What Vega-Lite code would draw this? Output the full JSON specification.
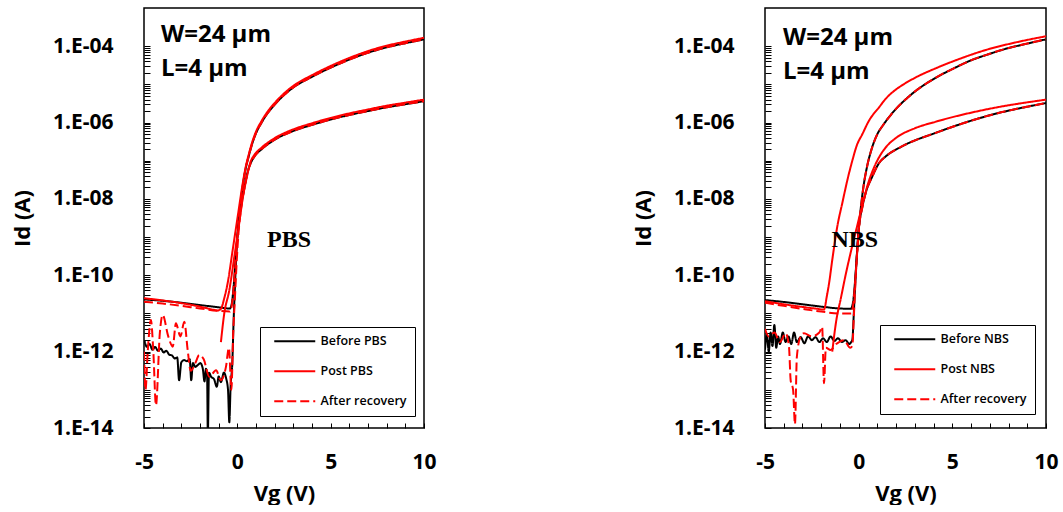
{
  "$schema": "https://vega.github.io/schema/vega-lite/v6.json",
  "background": "white",
  "padding": {"left": 10, "top": 7, "right": 0, "bottom": 0},
  "config": {
    "font": "Open Sans",
    "view": {"stroke": "black", "strokeWidth": 1.5},
    "axis": {"domain": false, "grid": false, "tickColor": "black", "tickWidth": 1, "labelColor": "black", "titleColor": "black", "labelFont": "Open Sans", "labelFontWeight": "bold", "labelFontSize": 21, "titleFont": "Open Sans", "titleFontWeight": "bold", "titleFontSize": 22, "labelOverlap": false, "labelFlush": false, "labelBound": false},
    "legend": {"labelFont": "Open Sans", "labelFontSize": 12.5, "labelFontWeight": 600, "labelColor": "black", "strokeColor": "black", "fillColor": "white", "padding": 8, "rowPadding": 17, "symbolType": "M0,0H8.2", "symbolSize": 100, "symbolStrokeWidth": 2, "labelOffset": 40}
  },
  "datasets": {
    "pbs": [
      {"series": "Before PBS", "curve": "Bh", "Vg": -5, "Id": 2.34e-11},
      {"series": "Before PBS", "curve": "Bh", "Vg": -4, "Id": 2.14e-11},
      {"series": "Before PBS", "curve": "Bh", "Vg": -3, "Id": 1.91e-11},
      {"series": "Before PBS", "curve": "Bh", "Vg": -2, "Id": 1.66e-11},
      {"series": "Before PBS", "curve": "Bh", "Vg": -1, "Id": 1.45e-11},
      {"series": "Before PBS", "curve": "Bh", "Vg": -0.4, "Id": 1.35e-11},
      {"series": "Before PBS", "curve": "Bh", "Vg": -0.3, "Id": 1.78e-11},
      {"series": "Before PBS", "curve": "Bh", "Vg": -0.2, "Id": 5.01e-11},
      {"series": "Before PBS", "curve": "Bh", "Vg": -0.1, "Id": 2.24e-10},
      {"series": "Before PBS", "curve": "Bh", "Vg": 0.0, "Id": 1.0e-9},
      {"series": "Before PBS", "curve": "Bh", "Vg": 0.1, "Id": 3.55e-9},
      {"series": "Before PBS", "curve": "Bh", "Vg": 0.2, "Id": 1.0e-8},
      {"series": "Before PBS", "curve": "Bh", "Vg": 0.3, "Id": 2.4e-8},
      {"series": "Before PBS", "curve": "Bh", "Vg": 0.45, "Id": 6.31e-8},
      {"series": "Before PBS", "curve": "Bh", "Vg": 0.6, "Id": 1.26e-7},
      {"series": "Before PBS", "curve": "Bh", "Vg": 0.8, "Id": 2.82e-7},
      {"series": "Before PBS", "curve": "Bh", "Vg": 1.0, "Id": 5.25e-7},
      {"series": "Before PBS", "curve": "Bh", "Vg": 1.3, "Id": 1.0e-6},
      {"series": "Before PBS", "curve": "Bh", "Vg": 1.6, "Id": 1.7e-6},
      {"series": "Before PBS", "curve": "Bh", "Vg": 2.0, "Id": 2.95e-6},
      {"series": "Before PBS", "curve": "Bh", "Vg": 2.5, "Id": 5.25e-6},
      {"series": "Before PBS", "curve": "Bh", "Vg": 3.0, "Id": 8.32e-6},
      {"series": "Before PBS", "curve": "Bh", "Vg": 4.0, "Id": 1.58e-5},
      {"series": "Before PBS", "curve": "Bh", "Vg": 5.0, "Id": 2.75e-5},
      {"series": "Before PBS", "curve": "Bh", "Vg": 6.0, "Id": 4.47e-5},
      {"series": "Before PBS", "curve": "Bh", "Vg": 7.0, "Id": 6.76e-5},
      {"series": "Before PBS", "curve": "Bh", "Vg": 8.0, "Id": 9.33e-5},
      {"series": "Before PBS", "curve": "Bh", "Vg": 9.0, "Id": 1.2e-4},
      {"series": "Before PBS", "curve": "Bh", "Vg": 10.0, "Id": 1.51e-4},
      {"series": "Before PBS", "curve": "Bl", "Vg": -4.98, "Id": 2.0e-12},
      {"series": "Before PBS", "curve": "Bl", "Vg": -4.85, "Id": 1.35e-12},
      {"series": "Before PBS", "curve": "Bl", "Vg": -4.7, "Id": 1.58e-12},
      {"series": "Before PBS", "curve": "Bl", "Vg": -4.55, "Id": 1.12e-12},
      {"series": "Before PBS", "curve": "Bl", "Vg": -4.4, "Id": 1.32e-12},
      {"series": "Before PBS", "curve": "Bl", "Vg": -4.25, "Id": 1.05e-12},
      {"series": "Before PBS", "curve": "Bl", "Vg": -4.1, "Id": 1.2e-12},
      {"series": "Before PBS", "curve": "Bl", "Vg": -3.95, "Id": 9.55e-13},
      {"series": "Before PBS", "curve": "Bl", "Vg": -3.8, "Id": 1.05e-12},
      {"series": "Before PBS", "curve": "Bl", "Vg": -3.65, "Id": 8.32e-13},
      {"series": "Before PBS", "curve": "Bl", "Vg": -3.5, "Id": 7.94e-13},
      {"series": "Before PBS", "curve": "Bl", "Vg": -3.35, "Id": 6.61e-13},
      {"series": "Before PBS", "curve": "Bl", "Vg": -3.22, "Id": 7.08e-13},
      {"series": "Before PBS", "curve": "Bl", "Vg": -3.12, "Id": 1.78e-13},
      {"series": "Before PBS", "curve": "Bl", "Vg": -3.0, "Id": 5.25e-13},
      {"series": "Before PBS", "curve": "Bl", "Vg": -2.85, "Id": 6.03e-13},
      {"series": "Before PBS", "curve": "Bl", "Vg": -2.7, "Id": 5.62e-13},
      {"series": "Before PBS", "curve": "Bl", "Vg": -2.55, "Id": 6.31e-13},
      {"series": "Before PBS", "curve": "Bl", "Vg": -2.47, "Id": 1.78e-13},
      {"series": "Before PBS", "curve": "Bl", "Vg": -2.38, "Id": 5.01e-13},
      {"series": "Before PBS", "curve": "Bl", "Vg": -2.25, "Id": 3.98e-13},
      {"series": "Before PBS", "curve": "Bl", "Vg": -2.12, "Id": 4.47e-13},
      {"series": "Before PBS", "curve": "Bl", "Vg": -1.98, "Id": 5.01e-13},
      {"series": "Before PBS", "curve": "Bl", "Vg": -1.85, "Id": 3.55e-13},
      {"series": "Before PBS", "curve": "Bl", "Vg": -1.76, "Id": 1.66e-13},
      {"series": "Before PBS", "curve": "Bl", "Vg": -1.68, "Id": 3.55e-13},
      {"series": "Before PBS", "curve": "Bl", "Vg": -1.62, "Id": 2.51e-13},
      {"series": "Before PBS", "curve": "Bl", "Vg": -1.58, "Id": 6.31e-15},
      {"series": "Before PBS", "curve": "Bl", "Vg": -1.52, "Id": 2.82e-13},
      {"series": "Before PBS", "curve": "Bl", "Vg": -1.4, "Id": 2.19e-13},
      {"series": "Before PBS", "curve": "Bl", "Vg": -1.25, "Id": 1.91e-13},
      {"series": "Before PBS", "curve": "Bl", "Vg": -1.1, "Id": 1.2e-13},
      {"series": "Before PBS", "curve": "Bl", "Vg": -1.0, "Id": 2.24e-13},
      {"series": "Before PBS", "curve": "Bl", "Vg": -0.88, "Id": 1.58e-13},
      {"series": "Before PBS", "curve": "Bl", "Vg": -0.72, "Id": 2.82e-13},
      {"series": "Before PBS", "curve": "Bl", "Vg": -0.6, "Id": 2.0e-13},
      {"series": "Before PBS", "curve": "Bl", "Vg": -0.5, "Id": 1.0e-13},
      {"series": "Before PBS", "curve": "Bl", "Vg": -0.43, "Id": 1.41e-14},
      {"series": "Before PBS", "curve": "Bl", "Vg": -0.36, "Id": 1.26e-13},
      {"series": "Before PBS", "curve": "Bl", "Vg": -0.27, "Id": 5.01e-13},
      {"series": "Before PBS", "curve": "Bl", "Vg": -0.2, "Id": 6.31e-12},
      {"series": "Before PBS", "curve": "Bl", "Vg": -0.12, "Id": 6.31e-11},
      {"series": "Before PBS", "curve": "Bl", "Vg": -0.05, "Id": 4.47e-10},
      {"series": "Before PBS", "curve": "Bl", "Vg": 0.05, "Id": 1.78e-9},
      {"series": "Before PBS", "curve": "Bl", "Vg": 0.2, "Id": 6.31e-9},
      {"series": "Before PBS", "curve": "Bl", "Vg": 0.38, "Id": 2.0e-8},
      {"series": "Before PBS", "curve": "Bl", "Vg": 0.55, "Id": 5.01e-8},
      {"series": "Before PBS", "curve": "Bl", "Vg": 0.7, "Id": 8.32e-8},
      {"series": "Before PBS", "curve": "Bl", "Vg": 0.9, "Id": 1.26e-7},
      {"series": "Before PBS", "curve": "Bl", "Vg": 1.3, "Id": 2.0e-7},
      {"series": "Before PBS", "curve": "Bl", "Vg": 2.0, "Id": 3.55e-7},
      {"series": "Before PBS", "curve": "Bl", "Vg": 3.0, "Id": 6.03e-7},
      {"series": "Before PBS", "curve": "Bl", "Vg": 4.0, "Id": 8.71e-7},
      {"series": "Before PBS", "curve": "Bl", "Vg": 5.0, "Id": 1.2e-6},
      {"series": "Before PBS", "curve": "Bl", "Vg": 6.0, "Id": 1.58e-6},
      {"series": "Before PBS", "curve": "Bl", "Vg": 7.0, "Id": 2.0e-6},
      {"series": "Before PBS", "curve": "Bl", "Vg": 8.0, "Id": 2.51e-6},
      {"series": "Before PBS", "curve": "Bl", "Vg": 9.0, "Id": 3.02e-6},
      {"series": "Before PBS", "curve": "Bl", "Vg": 10.0, "Id": 3.63e-6},

      {"series": "Post PBS", "curve": "Ph", "Vg": -5, "Id": 2.51e-11},
      {"series": "Post PBS", "curve": "Ph", "Vg": -4, "Id": 2.19e-11},
      {"series": "Post PBS", "curve": "Ph", "Vg": -3, "Id": 1.86e-11},
      {"series": "Post PBS", "curve": "Ph", "Vg": -2, "Id": 1.51e-11},
      {"series": "Post PBS", "curve": "Ph", "Vg": -1.3, "Id": 1.26e-11},
      {"series": "Post PBS", "curve": "Ph", "Vg": -1.05, "Id": 1.2e-11},
      {"series": "Post PBS", "curve": "Ph", "Vg": -0.88, "Id": 1.32e-11},
      {"series": "Post PBS", "curve": "Ph", "Vg": -0.7, "Id": 2.51e-11},
      {"series": "Post PBS", "curve": "Ph", "Vg": -0.52, "Id": 6.17e-11},
      {"series": "Post PBS", "curve": "Ph", "Vg": -0.25, "Id": 4.57e-10},
      {"series": "Post PBS", "curve": "Ph", "Vg": 0.02, "Id": 3.47e-9},
      {"series": "Post PBS", "curve": "Ph", "Vg": 0.29, "Id": 2.57e-8},
      {"series": "Post PBS", "curve": "Ph", "Vg": 0.45, "Id": 6.94e-8},
      {"series": "Post PBS", "curve": "Ph", "Vg": 0.6, "Id": 1.39e-7},
      {"series": "Post PBS", "curve": "Ph", "Vg": 0.8, "Id": 3.1e-7},
      {"series": "Post PBS", "curve": "Ph", "Vg": 1.0, "Id": 5.78e-7},
      {"series": "Post PBS", "curve": "Ph", "Vg": 1.3, "Id": 1.1e-6},
      {"series": "Post PBS", "curve": "Ph", "Vg": 1.6, "Id": 1.87e-6},
      {"series": "Post PBS", "curve": "Ph", "Vg": 2.0, "Id": 3.25e-6},
      {"series": "Post PBS", "curve": "Ph", "Vg": 2.5, "Id": 5.78e-6},
      {"series": "Post PBS", "curve": "Ph", "Vg": 3.0, "Id": 9.15e-6},
      {"series": "Post PBS", "curve": "Ph", "Vg": 4.0, "Id": 1.74e-5},
      {"series": "Post PBS", "curve": "Ph", "Vg": 5.0, "Id": 3.03e-5},
      {"series": "Post PBS", "curve": "Ph", "Vg": 6.0, "Id": 4.92e-5},
      {"series": "Post PBS", "curve": "Ph", "Vg": 7.0, "Id": 7.44e-5},
      {"series": "Post PBS", "curve": "Ph", "Vg": 8.0, "Id": 1.03e-4},
      {"series": "Post PBS", "curve": "Ph", "Vg": 9.0, "Id": 1.32e-4},
      {"series": "Post PBS", "curve": "Ph", "Vg": 10.0, "Id": 1.66e-4},
      {"series": "Post PBS", "curve": "Pl", "Vg": -0.88, "Id": 1.78e-12},
      {"series": "Post PBS", "curve": "Pl", "Vg": -0.7, "Id": 1.0e-11},
      {"series": "Post PBS", "curve": "Pl", "Vg": -0.43, "Id": 4.07e-11},
      {"series": "Post PBS", "curve": "Pl", "Vg": -0.16, "Id": 3.09e-10},
      {"series": "Post PBS", "curve": "Pl", "Vg": 0.1, "Id": 2.29e-9},
      {"series": "Post PBS", "curve": "Pl", "Vg": 0.3, "Id": 1.12e-8},
      {"series": "Post PBS", "curve": "Pl", "Vg": 0.5, "Id": 3.55e-8},
      {"series": "Post PBS", "curve": "Pl", "Vg": 0.7, "Id": 9.15e-8},
      {"series": "Post PBS", "curve": "Pl", "Vg": 0.9, "Id": 1.39e-7},
      {"series": "Post PBS", "curve": "Pl", "Vg": 1.3, "Id": 2.2e-7},
      {"series": "Post PBS", "curve": "Pl", "Vg": 2.0, "Id": 3.9e-7},
      {"series": "Post PBS", "curve": "Pl", "Vg": 3.0, "Id": 6.63e-7},
      {"series": "Post PBS", "curve": "Pl", "Vg": 4.0, "Id": 9.58e-7},
      {"series": "Post PBS", "curve": "Pl", "Vg": 5.0, "Id": 1.32e-6},
      {"series": "Post PBS", "curve": "Pl", "Vg": 6.0, "Id": 1.74e-6},
      {"series": "Post PBS", "curve": "Pl", "Vg": 7.0, "Id": 2.2e-6},
      {"series": "Post PBS", "curve": "Pl", "Vg": 8.0, "Id": 2.76e-6},
      {"series": "Post PBS", "curve": "Pl", "Vg": 9.0, "Id": 3.32e-6},
      {"series": "Post PBS", "curve": "Pl", "Vg": 10.0, "Id": 3.99e-6},

      {"series": "After recovery", "curve": "Ah", "Vg": -5, "Id": 2.04e-11},
      {"series": "After recovery", "curve": "Ah", "Vg": -4, "Id": 1.82e-11},
      {"series": "After recovery", "curve": "Ah", "Vg": -3, "Id": 1.58e-11},
      {"series": "After recovery", "curve": "Ah", "Vg": -2, "Id": 1.35e-11},
      {"series": "After recovery", "curve": "Ah", "Vg": -1, "Id": 1.17e-11},
      {"series": "After recovery", "curve": "Ah", "Vg": -0.4, "Id": 1.12e-11},
      {"series": "After recovery", "curve": "Ah", "Vg": -0.3, "Id": 1.58e-11},
      {"series": "After recovery", "curve": "Ah", "Vg": -0.2, "Id": 4.47e-11},
      {"series": "After recovery", "curve": "Ah", "Vg": -0.1, "Id": 2.0e-10},
      {"series": "After recovery", "curve": "Ah", "Vg": 0.0, "Id": 8.91e-10},
      {"series": "After recovery", "curve": "Ah", "Vg": 0.1, "Id": 3.16e-9},
      {"series": "After recovery", "curve": "Ah", "Vg": 0.2, "Id": 8.91e-9},
      {"series": "After recovery", "curve": "Ah", "Vg": 0.3, "Id": 2.24e-8},
      {"series": "After recovery", "curve": "Ah", "Vg": 0.45, "Id": 6.31e-8},
      {"series": "After recovery", "curve": "Ah", "Vg": 0.6, "Id": 1.26e-7},
      {"series": "After recovery", "curve": "Ah", "Vg": 0.8, "Id": 2.82e-7},
      {"series": "After recovery", "curve": "Ah", "Vg": 1.0, "Id": 5.25e-7},
      {"series": "After recovery", "curve": "Ah", "Vg": 1.3, "Id": 1.0e-6},
      {"series": "After recovery", "curve": "Ah", "Vg": 1.6, "Id": 1.7e-6},
      {"series": "After recovery", "curve": "Ah", "Vg": 2.0, "Id": 2.95e-6},
      {"series": "After recovery", "curve": "Ah", "Vg": 2.5, "Id": 5.25e-6},
      {"series": "After recovery", "curve": "Ah", "Vg": 3.0, "Id": 8.32e-6},
      {"series": "After recovery", "curve": "Ah", "Vg": 4.0, "Id": 1.58e-5},
      {"series": "After recovery", "curve": "Ah", "Vg": 5.0, "Id": 2.75e-5},
      {"series": "After recovery", "curve": "Ah", "Vg": 6.0, "Id": 4.47e-5},
      {"series": "After recovery", "curve": "Ah", "Vg": 7.0, "Id": 6.76e-5},
      {"series": "After recovery", "curve": "Ah", "Vg": 8.0, "Id": 9.33e-5},
      {"series": "After recovery", "curve": "Ah", "Vg": 9.0, "Id": 1.2e-4},
      {"series": "After recovery", "curve": "Ah", "Vg": 10.0, "Id": 1.51e-4},
      {"series": "After recovery", "curve": "Al", "Vg": -5, "Id": 1.0e-12},
      {"series": "After recovery", "curve": "Al", "Vg": -4.92, "Id": 1.0e-13},
      {"series": "After recovery", "curve": "Al", "Vg": -4.8, "Id": 1.0e-12},
      {"series": "After recovery", "curve": "Al", "Vg": -4.63, "Id": 6.76e-12},
      {"series": "After recovery", "curve": "Al", "Vg": -4.5, "Id": 1.0e-12},
      {"series": "After recovery", "curve": "Al", "Vg": -4.36, "Id": 3.98e-14},
      {"series": "After recovery", "curve": "Al", "Vg": -4.15, "Id": 3.16e-12},
      {"series": "After recovery", "curve": "Al", "Vg": -4.0, "Id": 9.12e-12},
      {"series": "After recovery", "curve": "Al", "Vg": -3.7, "Id": 2.51e-12},
      {"series": "After recovery", "curve": "Al", "Vg": -3.46, "Id": 1.35e-12},
      {"series": "After recovery", "curve": "Al", "Vg": -3.29, "Id": 5.5e-12},
      {"series": "After recovery", "curve": "Al", "Vg": -3.05, "Id": 2.51e-12},
      {"series": "After recovery", "curve": "Al", "Vg": -2.84, "Id": 6.03e-12},
      {"series": "After recovery", "curve": "Al", "Vg": -2.66, "Id": 1.1e-12},
      {"series": "After recovery", "curve": "Al", "Vg": -2.5, "Id": 3.16e-13},
      {"series": "After recovery", "curve": "Al", "Vg": -2.25, "Id": 5.0e-13},
      {"series": "After recovery", "curve": "Al", "Vg": -2.04, "Id": 8.13e-13},
      {"series": "After recovery", "curve": "Al", "Vg": -1.8, "Id": 6.31e-13},
      {"series": "After recovery", "curve": "Al", "Vg": -1.5, "Id": 2.19e-13},
      {"series": "After recovery", "curve": "Al", "Vg": -1.14, "Id": 3.24e-13},
      {"series": "After recovery", "curve": "Al", "Vg": -0.88, "Id": 1.78e-13},
      {"series": "After recovery", "curve": "Al", "Vg": -0.61, "Id": 3.98e-13},
      {"series": "After recovery", "curve": "Al", "Vg": -0.45, "Id": 1.26e-12},
      {"series": "After recovery", "curve": "Al", "Vg": -0.32, "Id": 1.0e-13},
      {"series": "After recovery", "curve": "Al", "Vg": -0.22, "Id": 3.16e-12},
      {"series": "After recovery", "curve": "Al", "Vg": -0.12, "Id": 3.16e-11},
      {"series": "After recovery", "curve": "Al", "Vg": -0.03, "Id": 2.51e-10},
      {"series": "After recovery", "curve": "Al", "Vg": 0.07, "Id": 1.41e-9},
      {"series": "After recovery", "curve": "Al", "Vg": 0.2, "Id": 5.62e-9},
      {"series": "After recovery", "curve": "Al", "Vg": 0.38, "Id": 1.91e-8},
      {"series": "After recovery", "curve": "Al", "Vg": 0.55, "Id": 5.01e-8},
      {"series": "After recovery", "curve": "Al", "Vg": 0.7, "Id": 8.32e-8},
      {"series": "After recovery", "curve": "Al", "Vg": 0.9, "Id": 1.26e-7},
      {"series": "After recovery", "curve": "Al", "Vg": 1.3, "Id": 2.0e-7},
      {"series": "After recovery", "curve": "Al", "Vg": 2.0, "Id": 3.55e-7},
      {"series": "After recovery", "curve": "Al", "Vg": 3.0, "Id": 6.03e-7},
      {"series": "After recovery", "curve": "Al", "Vg": 4.0, "Id": 8.71e-7},
      {"series": "After recovery", "curve": "Al", "Vg": 5.0, "Id": 1.2e-6},
      {"series": "After recovery", "curve": "Al", "Vg": 6.0, "Id": 1.58e-6},
      {"series": "After recovery", "curve": "Al", "Vg": 7.0, "Id": 2.0e-6},
      {"series": "After recovery", "curve": "Al", "Vg": 8.0, "Id": 2.51e-6},
      {"series": "After recovery", "curve": "Al", "Vg": 9.0, "Id": 3.02e-6},
      {"series": "After recovery", "curve": "Al", "Vg": 10.0, "Id": 3.63e-6}
    ],
    "nbs": [
      {"series": "Before NBS", "curve": "Bh", "Vg": -5, "Id": 2.24e-11},
      {"series": "Before NBS", "curve": "Bh", "Vg": -4, "Id": 2.0e-11},
      {"series": "Before NBS", "curve": "Bh", "Vg": -3, "Id": 1.74e-11},
      {"series": "Before NBS", "curve": "Bh", "Vg": -2, "Id": 1.51e-11},
      {"series": "Before NBS", "curve": "Bh", "Vg": -1, "Id": 1.35e-11},
      {"series": "Before NBS", "curve": "Bh", "Vg": -0.42, "Id": 1.32e-11},
      {"series": "Before NBS", "curve": "Bh", "Vg": -0.3, "Id": 2.0e-11},
      {"series": "Before NBS", "curve": "Bh", "Vg": -0.2, "Id": 6.31e-11},
      {"series": "Before NBS", "curve": "Bh", "Vg": -0.1, "Id": 3.16e-10},
      {"series": "Before NBS", "curve": "Bh", "Vg": 0.0, "Id": 1.58e-9},
      {"series": "Before NBS", "curve": "Bh", "Vg": 0.1, "Id": 5.01e-9},
      {"series": "Before NBS", "curve": "Bh", "Vg": 0.25, "Id": 2.0e-8},
      {"series": "Before NBS", "curve": "Bh", "Vg": 0.45, "Id": 7.08e-8},
      {"series": "Before NBS", "curve": "Bh", "Vg": 0.7, "Id": 2.09e-7},
      {"series": "Before NBS", "curve": "Bh", "Vg": 1.0, "Id": 5.01e-7},
      {"series": "Before NBS", "curve": "Bh", "Vg": 1.3, "Id": 8.51e-7},
      {"series": "Before NBS", "curve": "Bh", "Vg": 1.8, "Id": 1.78e-6},
      {"series": "Before NBS", "curve": "Bh", "Vg": 2.7, "Id": 4.9e-6},
      {"series": "Before NBS", "curve": "Bh", "Vg": 4.1, "Id": 1.48e-5},
      {"series": "Before NBS", "curve": "Bh", "Vg": 5.0, "Id": 2.51e-5},
      {"series": "Before NBS", "curve": "Bh", "Vg": 5.9, "Id": 4.07e-5},
      {"series": "Before NBS", "curve": "Bh", "Vg": 7.0, "Id": 6.31e-5},
      {"series": "Before NBS", "curve": "Bh", "Vg": 7.7, "Id": 8.13e-5},
      {"series": "Before NBS", "curve": "Bh", "Vg": 9.0, "Id": 1.17e-4},
      {"series": "Before NBS", "curve": "Bh", "Vg": 10.0, "Id": 1.51e-4},
      {"series": "Before NBS", "curve": "Bl", "Vg": -5.0, "Id": 1.12e-12},
      {"series": "Before NBS", "curve": "Bl", "Vg": -4.9, "Id": 2.82e-12},
      {"series": "Before NBS", "curve": "Bl", "Vg": -4.8, "Id": 1.0e-12},
      {"series": "Before NBS", "curve": "Bl", "Vg": -4.7, "Id": 3.16e-12},
      {"series": "Before NBS", "curve": "Bl", "Vg": -4.6, "Id": 1.41e-12},
      {"series": "Before NBS", "curve": "Bl", "Vg": -4.5, "Id": 5.01e-12},
      {"series": "Before NBS", "curve": "Bl", "Vg": -4.4, "Id": 1.26e-12},
      {"series": "Before NBS", "curve": "Bl", "Vg": -4.3, "Id": 2.51e-12},
      {"series": "Before NBS", "curve": "Bl", "Vg": -4.2, "Id": 1.58e-12},
      {"series": "Before NBS", "curve": "Bl", "Vg": -4.05, "Id": 3.16e-12},
      {"series": "Before NBS", "curve": "Bl", "Vg": -3.9, "Id": 1.78e-12},
      {"series": "Before NBS", "curve": "Bl", "Vg": -3.75, "Id": 2.51e-12},
      {"series": "Before NBS", "curve": "Bl", "Vg": -3.6, "Id": 1.58e-12},
      {"series": "Before NBS", "curve": "Bl", "Vg": -3.45, "Id": 3.16e-12},
      {"series": "Before NBS", "curve": "Bl", "Vg": -3.3, "Id": 1.78e-12},
      {"series": "Before NBS", "curve": "Bl", "Vg": -3.1, "Id": 2.4e-12},
      {"series": "Before NBS", "curve": "Bl", "Vg": -2.9, "Id": 1.66e-12},
      {"series": "Before NBS", "curve": "Bl", "Vg": -2.7, "Id": 2.51e-12},
      {"series": "Before NBS", "curve": "Bl", "Vg": -2.5, "Id": 2.0e-12},
      {"series": "Before NBS", "curve": "Bl", "Vg": -2.3, "Id": 2.4e-12},
      {"series": "Before NBS", "curve": "Bl", "Vg": -2.1, "Id": 1.78e-12},
      {"series": "Before NBS", "curve": "Bl", "Vg": -1.9, "Id": 2.24e-12},
      {"series": "Before NBS", "curve": "Bl", "Vg": -1.7, "Id": 1.78e-12},
      {"series": "Before NBS", "curve": "Bl", "Vg": -1.5, "Id": 2.51e-12},
      {"series": "Before NBS", "curve": "Bl", "Vg": -1.3, "Id": 1.91e-12},
      {"series": "Before NBS", "curve": "Bl", "Vg": -1.1, "Id": 2.24e-12},
      {"series": "Before NBS", "curve": "Bl", "Vg": -0.9, "Id": 1.78e-12},
      {"series": "Before NBS", "curve": "Bl", "Vg": -0.7, "Id": 2.0e-12},
      {"series": "Before NBS", "curve": "Bl", "Vg": -0.5, "Id": 1.58e-12},
      {"series": "Before NBS", "curve": "Bl", "Vg": -0.4, "Id": 1.78e-12},
      {"series": "Before NBS", "curve": "Bl", "Vg": -0.34, "Id": 2.0e-12},
      {"series": "Before NBS", "curve": "Bl", "Vg": -0.25, "Id": 1.26e-11},
      {"series": "Before NBS", "curve": "Bl", "Vg": -0.16, "Id": 1.0e-10},
      {"series": "Before NBS", "curve": "Bl", "Vg": -0.08, "Id": 4.47e-10},
      {"series": "Before NBS", "curve": "Bl", "Vg": 0.02, "Id": 1.91e-9},
      {"series": "Before NBS", "curve": "Bl", "Vg": 0.2, "Id": 6.31e-9},
      {"series": "Before NBS", "curve": "Bl", "Vg": 0.37, "Id": 1.41e-8},
      {"series": "Before NBS", "curve": "Bl", "Vg": 0.73, "Id": 3.89e-8},
      {"series": "Before NBS", "curve": "Bl", "Vg": 1.09, "Id": 8.71e-8},
      {"series": "Before NBS", "curve": "Bl", "Vg": 1.44, "Id": 1.29e-7},
      {"series": "Before NBS", "curve": "Bl", "Vg": 2.33, "Id": 2.4e-7},
      {"series": "Before NBS", "curve": "Bl", "Vg": 4.11, "Id": 5.37e-7},
      {"series": "Before NBS", "curve": "Bl", "Vg": 6.78, "Id": 1.45e-6},
      {"series": "Before NBS", "curve": "Bl", "Vg": 10.0, "Id": 3.24e-6},

      {"series": "Post NBS", "curve": "Ph", "Vg": -5, "Id": 2.09e-11},
      {"series": "Post NBS", "curve": "Ph", "Vg": -4, "Id": 1.74e-11},
      {"series": "Post NBS", "curve": "Ph", "Vg": -3, "Id": 1.48e-11},
      {"series": "Post NBS", "curve": "Ph", "Vg": -2.2, "Id": 1.32e-11},
      {"series": "Post NBS", "curve": "Ph", "Vg": -1.85, "Id": 1.26e-11},
      {"series": "Post NBS", "curve": "Ph", "Vg": -1.7, "Id": 2.82e-11},
      {"series": "Post NBS", "curve": "Ph", "Vg": -1.58, "Id": 6.17e-11},
      {"series": "Post NBS", "curve": "Ph", "Vg": -1.41, "Id": 2.51e-10},
      {"series": "Post NBS", "curve": "Ph", "Vg": -1.14, "Id": 1.91e-9},
      {"series": "Post NBS", "curve": "Ph", "Vg": -0.87, "Id": 7.94e-9},
      {"series": "Post NBS", "curve": "Ph", "Vg": -0.6, "Id": 3.16e-8},
      {"series": "Post NBS", "curve": "Ph", "Vg": -0.34, "Id": 1.0e-7},
      {"series": "Post NBS", "curve": "Ph", "Vg": -0.1, "Id": 2.51e-7},
      {"series": "Post NBS", "curve": "Ph", "Vg": 0.2, "Id": 5.01e-7},
      {"series": "Post NBS", "curve": "Ph", "Vg": 0.55, "Id": 1.12e-6},
      {"series": "Post NBS", "curve": "Ph", "Vg": 1.09, "Id": 2.51e-6},
      {"series": "Post NBS", "curve": "Ph", "Vg": 1.44, "Id": 4.17e-6},
      {"series": "Post NBS", "curve": "Ph", "Vg": 2.0, "Id": 7.41e-6},
      {"series": "Post NBS", "curve": "Ph", "Vg": 2.33, "Id": 9.55e-6},
      {"series": "Post NBS", "curve": "Ph", "Vg": 3.2, "Id": 1.66e-5},
      {"series": "Post NBS", "curve": "Ph", "Vg": 4.11, "Id": 2.63e-5},
      {"series": "Post NBS", "curve": "Ph", "Vg": 5.4, "Id": 4.68e-5},
      {"series": "Post NBS", "curve": "Ph", "Vg": 6.78, "Id": 7.94e-5},
      {"series": "Post NBS", "curve": "Ph", "Vg": 8.4, "Id": 1.26e-4},
      {"series": "Post NBS", "curve": "Ph", "Vg": 10.0, "Id": 1.82e-4},
      {"series": "Post NBS", "curve": "Pl", "Vg": -1.41, "Id": 1.0e-12},
      {"series": "Post NBS", "curve": "Pl", "Vg": -1.2, "Id": 6.31e-12},
      {"series": "Post NBS", "curve": "Pl", "Vg": -0.95, "Id": 2.51e-11},
      {"series": "Post NBS", "curve": "Pl", "Vg": -0.7, "Id": 1.0e-10},
      {"series": "Post NBS", "curve": "Pl", "Vg": -0.4, "Id": 4.47e-10},
      {"series": "Post NBS", "curve": "Pl", "Vg": -0.1, "Id": 1.78e-9},
      {"series": "Post NBS", "curve": "Pl", "Vg": 0.2, "Id": 7.08e-9},
      {"series": "Post NBS", "curve": "Pl", "Vg": 0.5, "Id": 2.51e-8},
      {"series": "Post NBS", "curve": "Pl", "Vg": 0.8, "Id": 6.31e-8},
      {"series": "Post NBS", "curve": "Pl", "Vg": 1.1, "Id": 1.26e-7},
      {"series": "Post NBS", "curve": "Pl", "Vg": 1.5, "Id": 2.4e-7},
      {"series": "Post NBS", "curve": "Pl", "Vg": 2.0, "Id": 3.98e-7},
      {"series": "Post NBS", "curve": "Pl", "Vg": 3.0, "Id": 7.08e-7},
      {"series": "Post NBS", "curve": "Pl", "Vg": 4.11, "Id": 1.05e-6},
      {"series": "Post NBS", "curve": "Pl", "Vg": 6.78, "Id": 2.19e-6},
      {"series": "Post NBS", "curve": "Pl", "Vg": 10.0, "Id": 3.98e-6},

      {"series": "After recovery", "curve": "Ah", "Vg": -5, "Id": 1.91e-11},
      {"series": "After recovery", "curve": "Ah", "Vg": -4, "Id": 1.58e-11},
      {"series": "After recovery", "curve": "Ah", "Vg": -3, "Id": 1.32e-11},
      {"series": "After recovery", "curve": "Ah", "Vg": -2, "Id": 1.12e-11},
      {"series": "After recovery", "curve": "Ah", "Vg": -1, "Id": 1.0e-11},
      {"series": "After recovery", "curve": "Ah", "Vg": -0.4, "Id": 1.0e-11},
      {"series": "After recovery", "curve": "Ah", "Vg": -0.3, "Id": 1.58e-11},
      {"series": "After recovery", "curve": "Ah", "Vg": -0.2, "Id": 5.62e-11},
      {"series": "After recovery", "curve": "Ah", "Vg": -0.1, "Id": 2.82e-10},
      {"series": "After recovery", "curve": "Ah", "Vg": 0.0, "Id": 1.41e-9},
      {"series": "After recovery", "curve": "Ah", "Vg": 0.1, "Id": 4.47e-9},
      {"series": "After recovery", "curve": "Ah", "Vg": 0.25, "Id": 2.0e-8},
      {"series": "After recovery", "curve": "Ah", "Vg": 0.45, "Id": 7.08e-8},
      {"series": "After recovery", "curve": "Ah", "Vg": 0.7, "Id": 2.09e-7},
      {"series": "After recovery", "curve": "Ah", "Vg": 1.0, "Id": 5.01e-7},
      {"series": "After recovery", "curve": "Ah", "Vg": 1.3, "Id": 8.51e-7},
      {"series": "After recovery", "curve": "Ah", "Vg": 1.8, "Id": 1.78e-6},
      {"series": "After recovery", "curve": "Ah", "Vg": 2.7, "Id": 4.9e-6},
      {"series": "After recovery", "curve": "Ah", "Vg": 4.1, "Id": 1.48e-5},
      {"series": "After recovery", "curve": "Ah", "Vg": 5.0, "Id": 2.51e-5},
      {"series": "After recovery", "curve": "Ah", "Vg": 5.9, "Id": 4.07e-5},
      {"series": "After recovery", "curve": "Ah", "Vg": 7.0, "Id": 6.31e-5},
      {"series": "After recovery", "curve": "Ah", "Vg": 7.7, "Id": 8.13e-5},
      {"series": "After recovery", "curve": "Ah", "Vg": 9.0, "Id": 1.17e-4},
      {"series": "After recovery", "curve": "Ah", "Vg": 10.0, "Id": 1.51e-4},
      {"series": "After recovery", "curve": "Al", "Vg": -5, "Id": 3.98e-12},
      {"series": "After recovery", "curve": "Al", "Vg": -4.8, "Id": 2.51e-12},
      {"series": "After recovery", "curve": "Al", "Vg": -4.5, "Id": 3.16e-12},
      {"series": "After recovery", "curve": "Al", "Vg": -4.2, "Id": 1.78e-12},
      {"series": "After recovery", "curve": "Al", "Vg": -3.9, "Id": 3.02e-12},
      {"series": "After recovery", "curve": "Al", "Vg": -3.72, "Id": 1.35e-12},
      {"series": "After recovery", "curve": "Al", "Vg": -3.63, "Id": 1.78e-13},
      {"series": "After recovery", "curve": "Al", "Vg": -3.5, "Id": 1.0e-13},
      {"series": "After recovery", "curve": "Al", "Vg": -3.4, "Id": 1.26e-14},
      {"series": "After recovery", "curve": "Al", "Vg": -3.3, "Id": 7.24e-13},
      {"series": "After recovery", "curve": "Al", "Vg": -3.1, "Id": 2.51e-12},
      {"series": "After recovery", "curve": "Al", "Vg": -2.92, "Id": 3.02e-12},
      {"series": "After recovery", "curve": "Al", "Vg": -2.5, "Id": 2.51e-12},
      {"series": "After recovery", "curve": "Al", "Vg": -2.1, "Id": 3.16e-12},
      {"series": "After recovery", "curve": "Al", "Vg": -1.95, "Id": 4.47e-12},
      {"series": "After recovery", "curve": "Al", "Vg": -1.85, "Id": 1.48e-13},
      {"series": "After recovery", "curve": "Al", "Vg": -1.75, "Id": 1.26e-12},
      {"series": "After recovery", "curve": "Al", "Vg": -1.5, "Id": 1.1e-12},
      {"series": "After recovery", "curve": "Al", "Vg": -1.2, "Id": 1.58e-12},
      {"series": "After recovery", "curve": "Al", "Vg": -0.78, "Id": 2.0e-12},
      {"series": "After recovery", "curve": "Al", "Vg": -0.45, "Id": 1.26e-12},
      {"series": "After recovery", "curve": "Al", "Vg": -0.34, "Id": 1.41e-12},
      {"series": "After recovery", "curve": "Al", "Vg": -0.25, "Id": 1.0e-11},
      {"series": "After recovery", "curve": "Al", "Vg": -0.16, "Id": 8.91e-11},
      {"series": "After recovery", "curve": "Al", "Vg": -0.08, "Id": 3.98e-10},
      {"series": "After recovery", "curve": "Al", "Vg": 0.02, "Id": 1.78e-9},
      {"series": "After recovery", "curve": "Al", "Vg": 0.2, "Id": 6.03e-9},
      {"series": "After recovery", "curve": "Al", "Vg": 0.37, "Id": 1.41e-8},
      {"series": "After recovery", "curve": "Al", "Vg": 0.73, "Id": 3.89e-8},
      {"series": "After recovery", "curve": "Al", "Vg": 1.09, "Id": 8.71e-8},
      {"series": "After recovery", "curve": "Al", "Vg": 1.44, "Id": 1.29e-7},
      {"series": "After recovery", "curve": "Al", "Vg": 2.33, "Id": 2.4e-7},
      {"series": "After recovery", "curve": "Al", "Vg": 4.11, "Id": 5.37e-7},
      {"series": "After recovery", "curve": "Al", "Vg": 6.78, "Id": 1.45e-6},
      {"series": "After recovery", "curve": "Al", "Vg": 10.0, "Id": 3.24e-6}
    ]
  },
  "spacing": 194,
  "resolve": {"scale": {"color": "independent", "strokeDash": "independent"}, "legend": {"color": "independent", "strokeDash": "independent"}},
  "hconcat": [
    {
      "width": 280, "height": 420,
      "encoding": {
        "x": {"field": "Vg", "type": "quantitative", "title": "Vg (V)", "scale": {"domain": [-5, 10], "nice": false, "zero": false},
              "axis": {"values": [-5,-4,-3,-2,-1,0,1,2,3,4,5,6,7,8,9,10], "labelExpr": "datum.value == -5 ? '-5' : datum.value == 0 ? '0' : datum.value == 5 ? '5' : datum.value == 10 ? '10' : ''", "labelOverlap": false, "labelFlush": false, "labelBound": false, "tickSize": -5, "labelPadding": 28, "titlePadding": 11}},
        "y": {"field": "Id", "type": "quantitative", "title": "Id (A)", "scale": {"type": "log", "domain": [1e-14, 1e-3], "nice": false},
              "axis": {"values": [1e-14,2e-14,3e-14,4e-14,5e-14,6e-14,7e-14,8e-14,9e-14,1e-13,2e-13,3e-13,4e-13,5e-13,6e-13,7e-13,8e-13,9e-13,1e-12,2e-12,3e-12,4e-12,5e-12,6e-12,7e-12,8e-12,9e-12,1e-11,2e-11,3e-11,4e-11,5e-11,6e-11,7e-11,8e-11,9e-11,1e-10,2e-10,3e-10,4e-10,5e-10,6e-10,7e-10,8e-10,9e-10,1e-9,2e-9,3e-9,4e-9,5e-9,6e-9,7e-9,8e-9,9e-9,1e-8,2e-8,3e-8,4e-8,5e-8,6e-8,7e-8,8e-8,9e-8,1e-7,2e-7,3e-7,4e-7,5e-7,6e-7,7e-7,8e-7,9e-7,1e-6,2e-6,3e-6,4e-6,5e-6,6e-6,7e-6,8e-6,9e-6,1e-5,2e-5,3e-5,4e-5,5e-5,6e-5,7e-5,8e-5,9e-5,1e-4],
                       "labelExpr": "(abs(log(datum.value)/LN10 - round(log(datum.value)/LN10)) < 0.001 && round(log(datum.value)/LN10) % 2 === 0) ? '1.E-' + (round(-log(datum.value)/LN10) < 10 ? '0' : '') + round(-log(datum.value)/LN10) : ''",
                       "labelOverlap": false, "tickSize": -6, "labelPadding": 37, "titlePadding": 18}}
      },
      "layer": [
        {
          "data": {"name": "pbs"},
          "mark": {"type": "line", "strokeWidth": 2, "interpolate": "monotone", "clip": true},
          "encoding": {
            "color": {"field": "series", "type": "nominal", "scale": {"domain": ["Before PBS", "Post PBS", "After recovery"], "range": ["#000000", "#ff0000", "#ff0000"]},
                      "legend": {"title": null, "orient": "none", "legendX": 116, "legendY": 319}},
            "strokeDash": {"field": "series", "type": "nominal", "scale": {"domain": ["Before PBS", "Post PBS", "After recovery"], "range": [[1, 0], [1, 0], [9, 4]]},
                      "legend": {"title": null, "orient": "none", "legendX": 116, "legendY": 319}},
            "detail": {"field": "curve"}
          }
        },
        {
          "data": {"values": [{"Vg": -4.09, "Id": 1.32e-4, "t": "W=24 µm"}, {"Vg": -4.09, "Id": 1.62e-5, "t": "L=4 µm"}]},
          "mark": {"type": "text", "align": "left", "baseline": "alphabetic", "fontSize": 24, "fontWeight": "bold", "font": "Open Sans", "color": "black"},
          "encoding": {"text": {"field": "t"}}
        },
        {
          "data": {"values": [{"Vg": 2.77, "Id": 5.37e-10, "t": "PBS"}]},
          "mark": {"type": "text", "align": "center", "baseline": "alphabetic", "fontSize": 24, "fontWeight": "bold", "font": "Liberation Serif", "color": "black"},
          "encoding": {"text": {"field": "t"}}
        }
      ]
    },
    {
      "width": 281, "height": 420,
      "encoding": {
        "x": {"field": "Vg", "type": "quantitative", "title": "Vg (V)", "scale": {"domain": [-5, 10], "nice": false, "zero": false},
              "axis": {"values": [-5,-4,-3,-2,-1,0,1,2,3,4,5,6,7,8,9,10], "labelExpr": "datum.value == -5 ? '-5' : datum.value == 0 ? '0' : datum.value == 5 ? '5' : datum.value == 10 ? '10' : ''", "labelOverlap": false, "labelFlush": false, "labelBound": false, "tickSize": -5, "labelPadding": 28, "titlePadding": 11}},
        "y": {"field": "Id", "type": "quantitative", "title": "Id (A)", "scale": {"type": "log", "domain": [1e-14, 1e-3], "nice": false},
              "axis": {"values": [1e-14,2e-14,3e-14,4e-14,5e-14,6e-14,7e-14,8e-14,9e-14,1e-13,2e-13,3e-13,4e-13,5e-13,6e-13,7e-13,8e-13,9e-13,1e-12,2e-12,3e-12,4e-12,5e-12,6e-12,7e-12,8e-12,9e-12,1e-11,2e-11,3e-11,4e-11,5e-11,6e-11,7e-11,8e-11,9e-11,1e-10,2e-10,3e-10,4e-10,5e-10,6e-10,7e-10,8e-10,9e-10,1e-9,2e-9,3e-9,4e-9,5e-9,6e-9,7e-9,8e-9,9e-9,1e-8,2e-8,3e-8,4e-8,5e-8,6e-8,7e-8,8e-8,9e-8,1e-7,2e-7,3e-7,4e-7,5e-7,6e-7,7e-7,8e-7,9e-7,1e-6,2e-6,3e-6,4e-6,5e-6,6e-6,7e-6,8e-6,9e-6,1e-5,2e-5,3e-5,4e-5,5e-5,6e-5,7e-5,8e-5,9e-5,1e-4],
                       "labelExpr": "(abs(log(datum.value)/LN10 - round(log(datum.value)/LN10)) < 0.001 && round(log(datum.value)/LN10) % 2 === 0) ? '1.E-' + (round(-log(datum.value)/LN10) < 10 ? '0' : '') + round(-log(datum.value)/LN10) : ''",
                       "labelOverlap": false, "tickSize": -6, "labelPadding": 37, "titlePadding": 18}}
      },
      "layer": [
        {
          "data": {"name": "nbs"},
          "mark": {"type": "line", "strokeWidth": 2, "interpolate": "monotone", "clip": true},
          "encoding": {
            "color": {"field": "series", "type": "nominal", "scale": {"domain": ["Before NBS", "Post NBS", "After recovery"], "range": ["#000000", "#ff0000", "#ff0000"]},
                      "legend": {"title": null, "orient": "none", "legendX": 115, "legendY": 317}},
            "strokeDash": {"field": "series", "type": "nominal", "scale": {"domain": ["Before NBS", "Post NBS", "After recovery"], "range": [[1, 0], [1, 0], [9, 4]]},
                      "legend": {"title": null, "orient": "none", "legendX": 115, "legendY": 317}},
            "detail": {"field": "curve"}
          }
        },
        {
          "data": {"values": [{"Vg": -4.04, "Id": 1.1e-4, "t": "W=24 µm"}, {"Vg": -4.04, "Id": 1.38e-5, "t": "L=4 µm"}]},
          "mark": {"type": "text", "align": "left", "baseline": "alphabetic", "fontSize": 24, "fontWeight": "bold", "font": "Open Sans", "color": "black"},
          "encoding": {"text": {"field": "t"}}
        },
        {
          "data": {"values": [{"Vg": -0.21, "Id": 5.37e-10, "t": "NBS"}]},
          "mark": {"type": "text", "align": "center", "baseline": "alphabetic", "fontSize": 24, "fontWeight": "bold", "font": "Liberation Serif", "color": "black"},
          "encoding": {"text": {"field": "t"}}
        }
      ]
    }
  ]
}
